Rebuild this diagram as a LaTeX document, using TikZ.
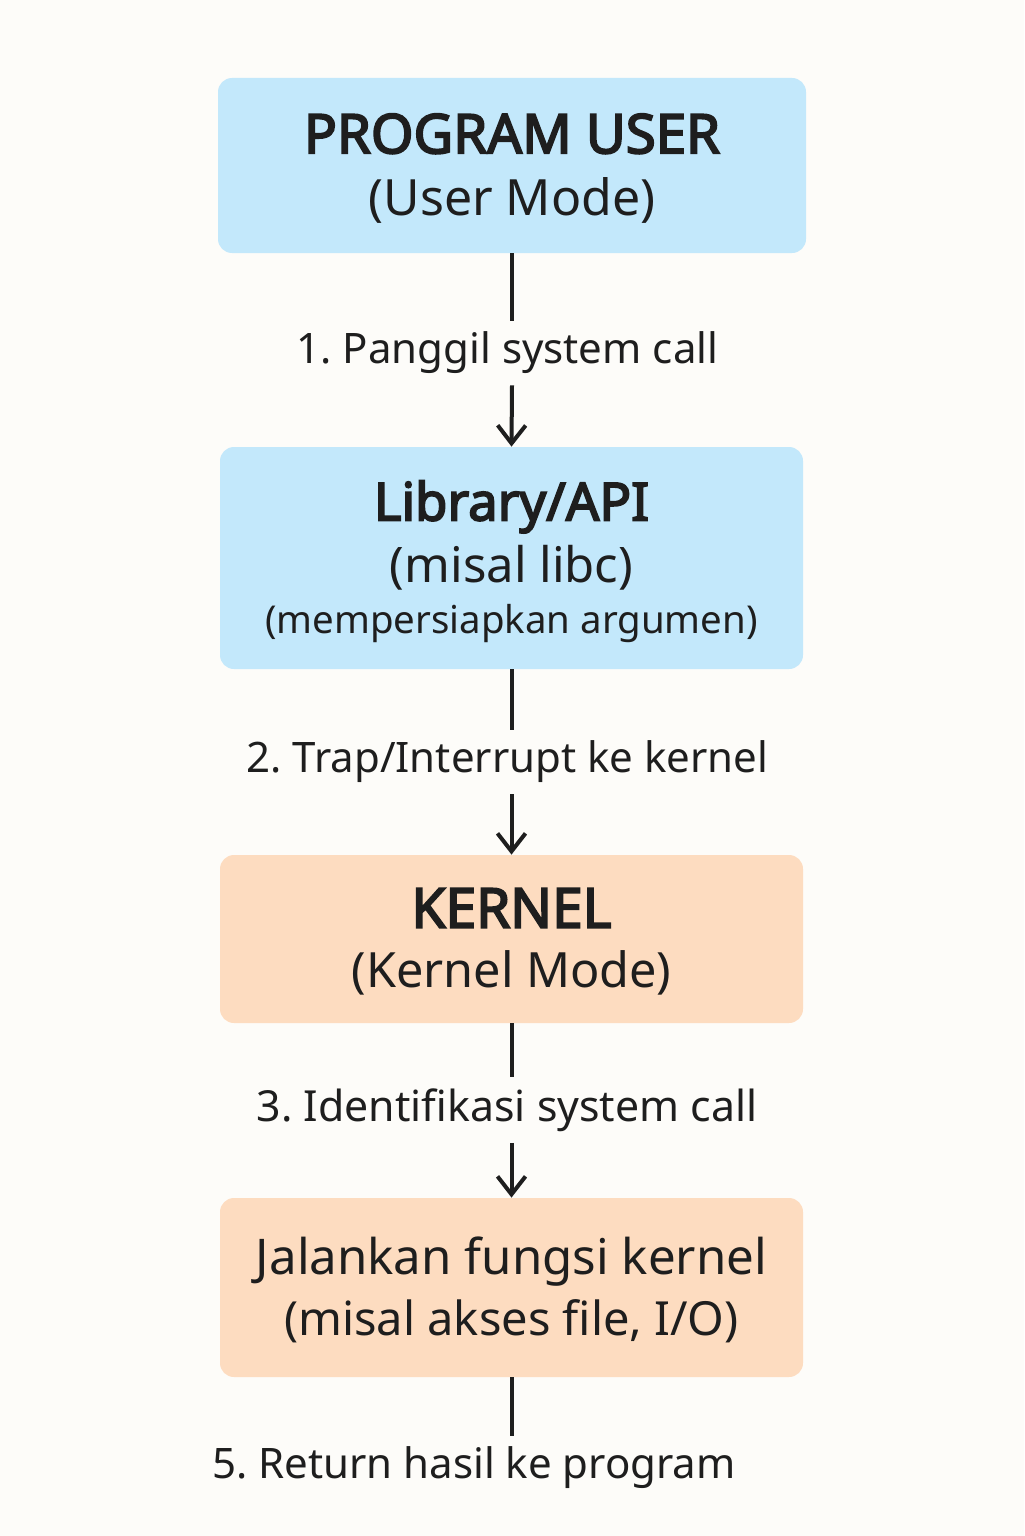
\documentclass[tikz,border=0pt]{standalone}
\usepackage{fontspec}
\setmainfont{Noto Sans}[AutoFakeBold=3.4]
\usetikzlibrary{arrows.meta}
\definecolor{bgcol}{HTML}{FDFCF9}
\definecolor{usercol}{HTML}{C3E8FB}
\definecolor{kernelcol}{HTML}{FDDCC0}
\definecolor{inkcol}{HTML}{1E1E1E}
\frenchspacing

\begin{document}
\begin{tikzpicture}[x=0.5pt,y=-0.5pt,
	stagebox/.style={rounded corners=7pt,minimum width=291.5pt,align=center,text=inkcol,inner sep=0pt,text depth=1pt,font=\fontsize{24}{31}\selectfont},
	userbox/.style={stagebox,fill=usercol},
	kernbox/.style={stagebox,fill=kernelcol},
	steplabel/.style={font=\fontsize{21}{25}\selectfont,text=inkcol,inner xsep=0pt,inner ysep=5.5pt},
	flow/.style={draw=inkcol,line width=2pt},
	flowarrow/.style={flow,-{Straight Barb[length=9pt,width=14pt,line width=2pt]}}]
	\fill [bgcol] (0,0) rectangle (1024,1536);
	\useasboundingbox (0,0) rectangle (1024,1536);
	\node [userbox,minimum width=294pt,minimum height=87.5pt] (prog) at (512,165.5)
		{\fontsize{27.3}{31}\selectfont\bfseries PROGRAM USER\\
		\fontsize{25}{31}\selectfont (User Mode)};
	\node [userbox,minimum height=111pt] (lib) at (511.5,558)
		{\fontsize{26.3}{31}\selectfont\bfseries Library/API\\
		\fontsize{24.5}{31}\selectfont (misal libc)\\[-5.5pt]
		\fontsize{19.2}{27}\selectfont (mempersiapkan argumen)};
	\node [kernbox,minimum height=84pt] (kern) at (511.5,939)
		{\fontsize{27.5}{30}\selectfont\bfseries KERNEL\\[-1pt]
		\fontsize{24.3}{30}\selectfont (Kernel Mode)};
	\node [kernbox,minimum height=89.5pt] (exec) at (511.5,1287.5)
		{\fontsize{24.6}{31}\selectfont Jalankan fungsi kernel\\[-0.5pt]
		\fontsize{23.5}{31}\selectfont (misal akses file, I/O)};
	\node [steplabel] (call) at (507.5,353) {1. Panggil system call};
	\node [steplabel] (trap) at (507.5,762) {2. Trap/Interrupt ke kernel};
	\node [steplabel,font=\fontsize{21.4}{25}\selectfont] (ident) at (507,1110) {3. Identifikasi system call};
	\node [steplabel] (ret) at (474,1468) {5. Return hasil ke program};
	\draw [flow] (prog.south) -- (prog.south |- call.north);
	\draw [flowarrow] (prog.south |- call.south) -- (lib.north);
	\draw [flow] (lib.south) -- (lib.south |- trap.north);
	\draw [flowarrow] (lib.south |- trap.south) -- (kern.north);
	\draw [flow] (kern.south) -- (kern.south |- ident.north);
	\draw [flowarrow] (kern.south |- ident.south) -- (exec.north);
	\draw [flow] (exec.south) -- (exec.south |- ret.north);
\end{tikzpicture}
\end{document}
